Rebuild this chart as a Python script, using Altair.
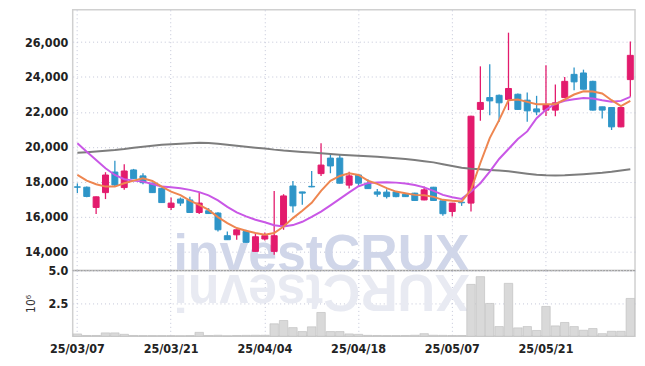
import altair as alt
import pandas as pd

dates = ["25/03/07","25/03/10","25/03/11","25/03/12","25/03/13","25/03/14","25/03/17","25/03/18","25/03/19","25/03/20",
         "25/03/21","25/03/24","25/03/25","25/03/26","25/03/27","25/03/28","25/03/31","25/04/01","25/04/02","25/04/03",
         "25/04/04","25/04/07","25/04/08","25/04/09","25/04/10","25/04/11","25/04/14","25/04/15","25/04/16","25/04/17",
         "25/04/18","25/04/21","25/04/22","25/04/23","25/04/24","25/04/25","25/04/28","25/04/29","25/04/30","25/05/02",
         "25/05/07","25/05/08","25/05/09","25/05/12","25/05/13","25/05/14","25/05/15","25/05/16","25/05/19","25/05/20",
         "25/05/21","25/05/22","25/05/23","25/05/26","25/05/27","25/05/28","25/05/29","25/05/30","25/06/02","25/06/04"]

opens = [17700,17680,16520,17370,18550,17660,18670,18330,17910,17620,
         16520,17000,16950,16230,16330,16200,14900,14950,15140,14000,
         14710,14000,15430,17750,17410,17730,18460,19350,19350,17800,
         18380,17910,17410,17400,17410,17280,17340,16950,17680,16900,
         16290,16820,16770,22140,22820,22950,22710,23010,22670,22170,
         22100,22100,22820,24150,24230,23750,22290,22250,21140,23850]
highs = [17900,17720,17150,18540,19200,19000,18730,18480,17950,17650,
         17090,17090,17130,17370,16480,16250,15140,15260,15240,15010,
         15090,17470,17280,18040,17420,18610,20200,19530,19530,18570,
         18400,18140,17580,17570,17450,17300,17360,17720,17700,16920,
         16780,16830,21780,24610,24730,23000,26540,23050,23110,22920,
         24670,23570,24000,24540,24420,23780,22300,22280,22270,26040]
lows = [17350,17100,16140,17000,17750,17530,18150,17850,17350,16780,
        16380,16610,16200,16140,16150,15140,14650,14670,14500,13980,
        14630,13810,15240,16230,16670,17680,18330,18480,17900,17600,
        17720,17580,17140,17030,17100,17120,16900,16930,16900,16040,
        16000,16610,16290,21490,21810,21430,22100,22100,21430,21810,
        21760,21750,22800,23240,23280,22080,21620,20960,21120,22860]
closes = [17680,17150,17130,18380,17810,18610,18170,17940,17370,16800,
          16770,16770,16230,16770,16170,15240,14670,15240,14520,14840,
          14900,14900,17180,16610,17340,17700,18950,18900,17910,18330,
          17910,17600,17280,17140,17140,17140,16920,17530,16920,16160,
          16770,16790,21750,22540,22630,22520,23340,22140,22060,22000,
          22420,22520,23750,23720,23300,22100,22100,21140,22250,25240]
volumes_m = [0.18,0.06,0.06,0.26,0.26,0.15,0.06,0.05,0.05,0.05,
             0.05,0.04,0.05,0.30,0.06,0.08,0.03,0.06,0.07,0.08,
             0.08,0.95,1.20,0.66,0.36,0.72,1.81,0.36,0.36,0.18,
             0.15,0.07,0.06,0.05,0.05,0.06,0.08,0.20,0.08,0.07,
             0.06,0.06,3.95,4.54,2.50,0.74,4.03,0.64,0.74,0.44,
             2.27,0.79,1.05,0.74,0.46,0.59,0.20,0.38,0.38,2.88]
ma5 = [18384,18058,17852,17715,17715,17909,18058,18195,18041,17715,
       17429,17223,16915,16669,16383,15966,15623,15338,15183,15052,
       14955,15052,15429,15909,16326,16783,17469,18041,18326,18480,
       18384,18058,17869,17624,17429,17338,17241,17223,17126,16955,
       16898,16858,17527,19069,20498,21526,22669,22709,22572,22441,
       22441,22441,22709,22995,23183,23166,23052,22669,22326,22629]
ma20 = [20195,19715,19241,18767,18384,18138,18058,18001,17869,17715,
        17681,17624,17527,17401,17212,16926,16555,16241,16012,15812,
        15669,15498,15429,15509,15698,15983,16286,16641,17012,17384,
        17738,17915,17955,17966,17943,17898,17812,17669,17469,17241,
        17109,17012,17429,17909,18572,19298,19869,20440,20880,21640,
        22126,22469,22640,22726,22795,22772,22669,22583,22629,22858]
ma60 = [19658,19686,19721,19767,19812,19869,19938,20006,20063,20109,
        20143,20178,20206,20223,20218,20178,20115,20052,19995,19949,
        19903,19835,19783,19743,19703,19669,19623,19578,19538,19509,
        19486,19458,19429,19389,19343,19298,19241,19172,19104,19001,
        18898,18795,18738,18704,18669,18635,18589,18521,18452,18395,
        18361,18349,18366,18395,18429,18469,18509,18561,18635,18715]

price_ticks = [14000, 16000, 18000, 20000, 22000, 24000, 26000]
date_ticks = dates[::10]
vol_ticks = [2.5, 5.0]

RED = "#e31b6d"
BLUE = "#2e95c8"
FONT = "DejaVu Sans Condensed"

candles = pd.DataFrame({
    "date": dates, "open": opens, "high": highs, "low": lows, "close": closes,
    "vol": volumes_m, "ma5": ma5, "ma20": ma20, "ma60": ma60,
})
candles["dir"] = ["up" if c >= o else "down" for o, c in zip(opens, closes)]

xscale = alt.Scale(domain=dates, paddingInner=0, paddingOuter=0)
yscale = alt.Scale(domain=[12900, 27850], nice=False, zero=False)
dir_scale = alt.Scale(domain=["up", "down"], range=[RED, BLUE])

x_price = alt.X("date:O", scale=xscale, sort=dates,
                axis=alt.Axis(values=date_ticks, labels=False, title=None, grid=True,
                              bandPosition=0.5, ticks=False, domain=False))

base = alt.Chart(candles)

watermark = alt.Chart(pd.DataFrame({"t": ["investCRUX"]})).mark_text(
    font="Liberation Sans", fontWeight="bold", fontSize=52, color="#d0d6e9",
    align="center", baseline="alphabetic"
).encode(x=alt.value(250), y=alt.value(262), text="t:N")

def ma_line(field, color):
    return base.mark_line(strokeWidth=2, color=color).encode(
        x=x_price, y=alt.Y(f"{field}:Q", scale=yscale))

wicks = base.mark_rule(strokeWidth=1.3).encode(
    x=x_price,
    y=alt.Y("low:Q", scale=yscale,
            axis=alt.Axis(values=price_ticks, format=",d", title=None, grid=True,
                          ticks=False, domain=False, labelPadding=5)),
    y2="high:Q",
    color=alt.Color("dir:N", scale=dir_scale, legend=None),
)

bodies = base.mark_bar(size=6, strokeWidth=1).encode(
    x=x_price,
    y=alt.Y("open:Q", scale=yscale),
    y2="close:Q",
    color=alt.Color("dir:N", scale=dir_scale, legend=None),
    stroke=alt.Stroke("dir:N", scale=dir_scale, legend=None),
)

price = alt.layer(
    watermark, wicks, bodies,
    ma_line("ma60", "#7d7d7d"), ma_line("ma20", "#c957e6"), ma_line("ma5", "#ee8650"),
).properties(width=565, height=262)

x_vol = alt.X("date:O", scale=xscale, sort=dates,
              axis=alt.Axis(values=date_ticks, title=None, grid=True, labelAngle=0,
                            bandPosition=0.5, ticks=False, domain=False, labelPadding=6))

reflection = alt.Chart(pd.DataFrame({"t": ["XURCtsevni"]})).mark_text(
    font="Liberation Sans", fontWeight="bold", fontSize=52, color="#e8eaf2",
    align="center", baseline="alphabetic", angle=180
).encode(x=alt.value(250), y=alt.value(4), text="t:N")

vol_bars = alt.Chart(candles).mark_bar(size=8.5, color="#d9d9d9", stroke="#bcbcbc",
                                        strokeWidth=0.6).encode(
    x=x_vol,
    y=alt.Y("vol:Q", scale=alt.Scale(domain=[0, 5.0], nice=False),
            axis=alt.Axis(values=vol_ticks, format=".1f", title="10⁶", grid=True,
                          ticks=False, domain=False, labelPadding=5, titlePadding=10,
                          titleFontWeight="normal", titleFontSize=12, titleColor="#333",
                          titleFont=FONT)),
)

top_rule = alt.Chart(pd.DataFrame({"v": [5.0]})).mark_rule(
    color="#9c9c9c", strokeWidth=1, strokeDash=[2, 1]
).encode(y=alt.Y("v:Q", scale=alt.Scale(domain=[0, 5.0], nice=False)))

volume = alt.layer(reflection, vol_bars, top_rule).properties(width=565, height=66)

chart = alt.vconcat(price, volume, spacing=0, bounds="flush").properties(
    padding={"left": 15, "top": 0, "right": 0, "bottom": 4}
).configure_axis(
    labelFont=FONT, labelFontSize=12.5, labelFontWeight="bold", labelColor="#222",
    gridColor="#c3c6d8", gridDash=[1, 3], gridWidth=1,
).configure_view(
    stroke="#d0d0d0", strokeWidth=1.5
)

chart.save("out.html", embed_options={"renderer": "svg", "actions": False})
